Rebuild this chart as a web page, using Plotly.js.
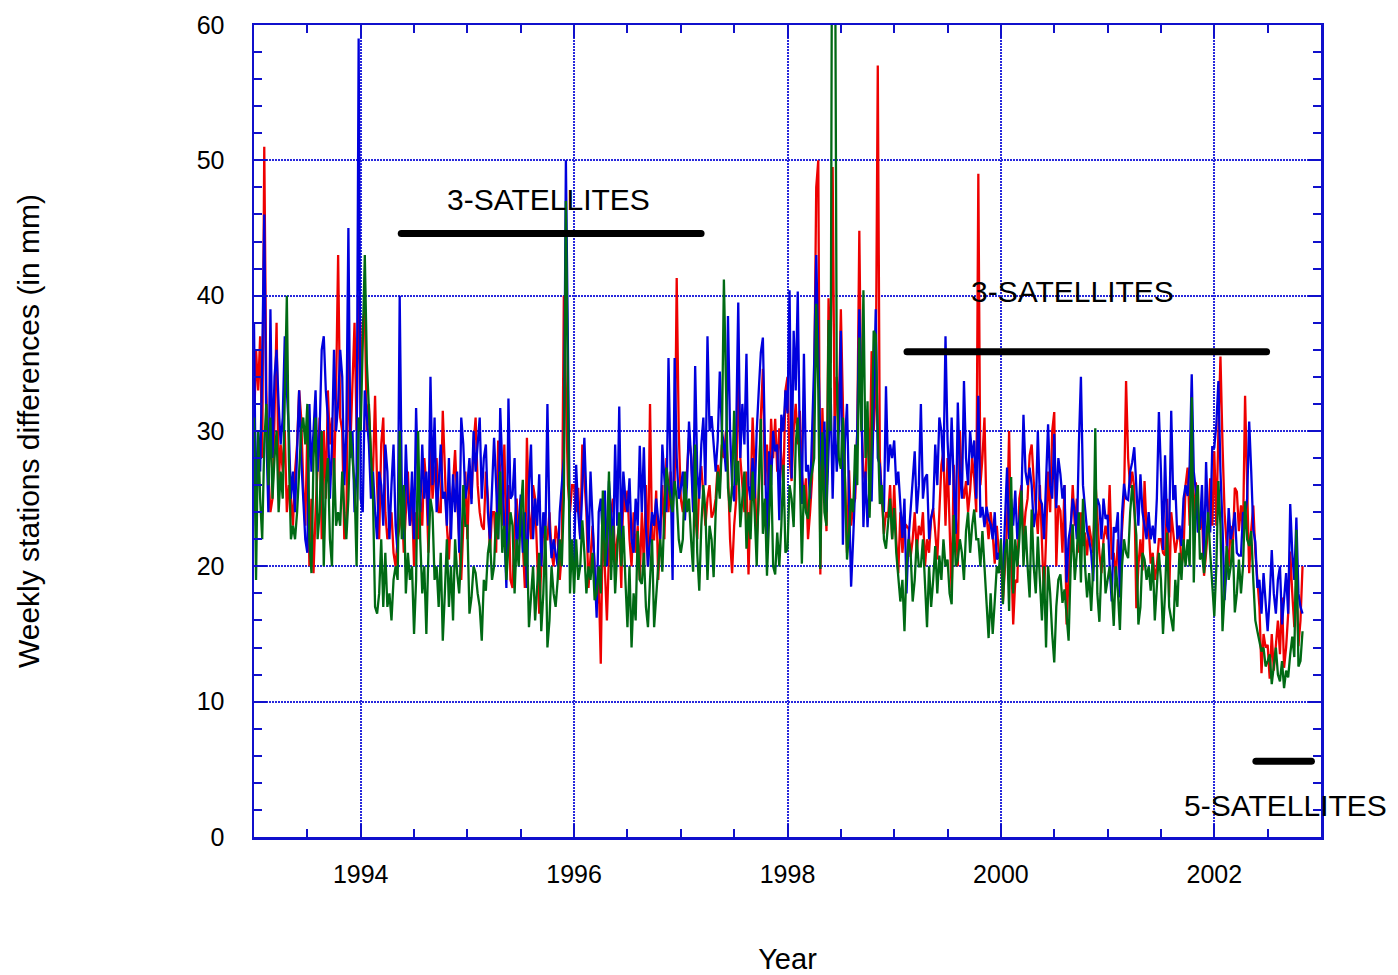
<!DOCTYPE html>
<html>
<head>
<meta charset="utf-8">
<script src="https://cdn.plot.ly/plotly-3.0.1.min.js"></script>
<style>
  html, body { margin: 0; padding: 0; background: #ffffff; }
  #chart { width: 1398px; height: 975px; }
  .shapelayer path { stroke-linecap: round; }
</style>
</head>
<body>
<div id="chart"></div>
<script>
// ---- data (weekly values, mm) ----
const startYear = 1993.0;
const weekStep = 1 / 52;

const redWeekly = [
  // 1993
  30, 36, 33, 37, 28, 51, 33, 27, 24, 25, 31, 38, 26,
  29, 27, 30, 24, 26, 25, 23, 27, 29, 33, 31, 26, 23,
  30, 20, 25, 19.5, 24, 28, 31, 22, 30, 25, 33, 29, 31,
  26, 33, 43, 31, 30, 22, 23, 36, 29, 33, 38, 30, 40,
  // 1994
  33, 38, 39, 30, 32, 28, 27, 32.6, 26, 22, 29, 31, 24,
  22, 23, 24, 21, 20, 22, 23, 25, 21, 24, 27, 23, 25,
  20, 24, 22, 25, 23, 28, 26, 21, 29, 25, 27, 28, 24,
  24, 31.5, 27, 23, 20.5, 24, 26, 28.6, 25, 22, 19, 23, 27,
  // 1995
  22, 27, 25, 29, 31, 26, 24, 23, 22.7, 27, 25, 21, 24,
  24, 21, 29.3, 27, 23, 29, 22, 26, 19, 18.4, 23, 25, 22,
  25, 21, 18.4, 29.5, 24, 22, 26, 25, 21, 16.5, 20, 23, 22,
  22, 24, 21, 20, 23, 22, 19, 21, 40, 33, 26, 24, 26,
  // 1996
  26, 24, 25.8, 22, 29, 26, 24, 18.4, 21, 23, 20, 17, 19,
  12.8, 23.6, 19, 16, 21, 24, 25, 20, 22, 23, 18.4, 26, 24,
  25.6, 22, 20, 24, 21, 23, 19, 24, 20, 26, 20, 32, 22,
  22, 25.6, 19, 23, 26, 22, 28, 24, 27, 25, 26, 41.3, 30,
  // 1997
  25, 24, 26, 27, 29.5, 28.3, 25, 24, 22, 26, 27.4, 25, 23,
  25, 26, 23.6, 24, 25, 27.5, 26, 29, 28, 30, 27, 22, 19.5,
  23, 25, 35, 28, 26, 24, 27, 19.4, 25, 31, 27, 22, 25,
  31, 34.6, 26, 29, 25, 30.9, 28, 30.9, 27, 30.2, 28, 26, 33,
  // 1998
  34, 28, 26.3, 30, 32, 29, 31.5, 27, 25, 26.5, 22, 24, 26.5,
  33, 48, 50, 19.4, 31.7, 26, 22.6, 39.8, 35, 49.5, 29.5, 34, 31,
  39, 32, 26, 21, 27.1, 23, 24.5, 25, 30, 44.8, 31, 27, 26,
  31, 27, 35.9, 30, 33, 57, 28, 25, 22.4, 24, 23.6, 26, 22,
  // 1999
  26, 22, 19.5, 24, 21, 22.7, 23, 22.8, 20.7, 22, 24, 21, 23,
  22.3, 24, 20, 22, 21, 23.5, 24.3, 22.5, 20.5, 24, 27.5, 28.5, 23,
  28, 22, 18, 27.5, 24.2, 20, 30, 26, 25, 26.3, 24, 25.6, 28,
  26.5, 24, 49, 26, 28, 31, 23.8, 22, 24, 22.4, 20.2, 23, 21,
  // 2000
  21, 17.4, 20, 23, 30, 21, 15.7, 19, 18.8, 25, 26, 22, 24,
  25, 28.2, 29, 26.3, 24, 22.4, 26, 22, 17.7, 22, 27, 24, 30,
  31.4, 20, 24.5, 24.1, 21, 26, 15.7, 19, 22.4, 26, 23, 25, 21,
  24, 21.5, 22.5, 20.8, 23, 22, 21, 26.5, 24, 21, 19.5, 22, 23,
  // 2001
  22, 26, 20.5, 21, 19, 22, 20.3, 22.6, 25, 33.7, 28, 25.8, 27,
  25.8, 16.9, 20, 22, 19.7, 26.3, 22.7, 23, 20.2, 21, 19, 20, 22,
  22, 21, 20.8, 25, 17.7, 24, 22.5, 21, 22, 23, 20, 21, 26,
  27.3, 23, 29, 22.7, 26.2, 24, 22.7, 24, 19.3, 21, 23, 26.5, 23,
  // 2002
  28.5, 23, 30, 35.5, 29, 24, 21.6, 20, 23, 21.3, 25.8, 25.5, 22.6,
  24.5, 22.5, 32.6, 26, 19.5, 22.7, 24.5, 21, 19, 17, 12.1, 15, 14,
  14.2, 11.7, 15, 12.3, 14, 16, 13.5, 17.7, 12.5, 14, 16.5, 21.1, 18, 15.5, 19, 14.1, 16, 20
];

const blueWeekly = [
  // 1993
  38, 23, 30, 27, 35, 46, 30, 24, 39, 28, 34, 36, 32,
  29, 31, 37, 33, 30, 25, 27, 24, 29, 33, 28, 25, 22,
  21, 32, 27, 30, 33, 27, 30, 36, 37, 33, 31, 25, 29,
  36, 30, 32, 36, 34, 26, 30, 45, 28, 30, 24, 27, 59,
  // 1994
  25, 24, 33, 31, 29, 25, 27, 24, 22, 27, 26, 23, 29,
  27, 22, 26, 29, 23, 21, 40, 26, 22, 29, 25, 23, 27,
  22, 31.7, 26, 24, 29, 25, 27, 23, 34, 26, 31, 24, 26,
  29, 25, 25.5, 23, 28, 22, 26.8, 24, 27, 21, 31, 29, 25,
  // 1995
  26, 28, 24.6, 30, 27, 29, 31, 25, 28, 29, 24, 22, 26,
  29.5, 26, 22, 31.7, 27, 24, 18.4, 32.4, 25, 25.3, 28, 21, 23,
  25.3, 21, 24, 18.4, 26, 29, 22, 25, 23, 26.8, 20, 24, 22,
  32, 23, 20.6, 22, 21, 20, 24, 26, 28, 50, 35, 22, 20,
  // 1996
  20, 27.5, 24, 22, 26, 29.5, 25, 21, 27, 23, 19, 16.2, 24,
  25, 22, 25.6, 20, 26.3, 24, 21, 29, 23, 31.8, 22, 27, 25,
  24, 26.5, 22, 21, 25, 23, 28.9, 24, 28.8, 23, 20, 22, 24,
  23, 25, 23.4, 22, 29, 26, 24, 35.4, 27, 19, 35.4, 28, 25,
  // 1997
  25.8, 27, 23.4, 26, 30.7, 28, 24, 34.8, 27, 25, 29, 31, 26,
  37, 30, 31.1, 29, 27, 29.3, 34.4, 30, 29, 27, 38.5, 30, 26,
  24.8, 30, 39.5, 28, 32, 29, 35.7, 26, 24.9, 28, 25, 30, 33,
  35.8, 36.9, 30, 21.1, 28.5, 26, 30, 28.5, 29, 23.4, 31.2, 30, 33,
  // 1998
  31.3, 40.4, 26.5, 37.4, 33, 40.3, 29, 24.6, 35.7, 27, 27.5, 25, 30,
  35, 43, 36, 29, 26, 30.7, 24, 28, 33.2, 25, 31.1, 27, 30,
  37.4, 21.6, 29.2, 32, 25, 18.5, 22, 26, 30, 39, 32.8, 22.9, 27,
  22.9, 26, 24.8, 31, 39, 28, 27.5, 25, 24, 33.3, 27, 29, 28,
  // 1999
  29.3, 26, 27, 24, 22.1, 25, 18, 22, 24, 26, 28.5, 23.9, 26,
  32, 25, 26.5, 26.8, 22, 23.6, 24.3, 29, 26, 31, 30, 27, 37,
  29.3, 26, 31, 26, 22.4, 32.1, 27, 25, 33.7, 28, 26, 30, 28,
  29.3, 25, 32.6, 23.6, 24.4, 22.9, 24.4, 23.5, 23.1, 22, 24, 20.5, 21,
  // 2000
  20, 19.5, 24, 27.3, 22, 25, 23, 25.6, 22, 23.5, 25, 31.2, 27,
  26, 27.3, 26, 22.9, 24, 30, 25, 24.6, 22, 27, 30.5, 26, 25,
  29.8, 24.3, 28, 26.8, 25, 26, 18.8, 22, 23, 25, 24, 22, 29,
  34, 26, 24.1, 22.6, 22, 21, 18.9, 24, 25, 24.5, 22, 25, 23.5,
  // 2001
  23.8, 20, 17.4, 22.9, 22.5, 24, 17.7, 23.8, 26.1, 25, 24.9, 27, 27.7,
  28.8, 26, 23, 26.8, 24, 23, 22, 24, 22, 23, 21.7, 25, 31.4,
  27, 21.2, 28.2, 23, 22.5, 31.5, 24.9, 26, 22, 23, 21.5, 25, 26,
  25.2, 27.5, 34.2, 27, 25.6, 22.5, 22.9, 26, 20.5, 27.7, 23, 22.5, 28.8,
  // 2002
  28.8, 30.5, 33.7, 27, 23, 17.5, 20, 24.3, 22, 22.8, 24, 21, 20.8,
  20.8, 24, 23.8, 25, 30.7, 27, 22.7, 21.8, 18.4, 19, 16.5, 19.5, 17,
  15.2, 17.7, 21.2, 18, 16.5, 19, 20, 15.7, 18, 19.5, 16.5, 24.6, 21, 19, 23.6, 18, 17, 16.5
];

const greenWeekly = [
  // 1993
  31, 19, 30, 25, 22, 29, 32, 26, 31, 25, 28, 30, 24,
  27, 25, 34, 40, 28, 22, 23, 22, 24, 27, 30, 31, 29,
  32, 22, 19.5, 28, 31, 22, 24, 30, 20, 26, 28, 22, 20,
  28, 23, 24, 23, 27, 24, 22, 25, 30, 28, 26, 20, 31,
  // 1994
  30, 36, 43, 35, 32, 28, 25, 17, 16.5, 18, 22, 17, 21,
  17, 18, 16, 19, 20, 19, 30, 22, 26, 18, 21, 19, 20,
  15, 19, 30, 22, 18, 20, 15, 21, 25, 24, 19, 20, 17,
  21, 14.5, 18, 22, 17, 20, 16, 22, 19.5, 18, 21, 26, 23,
  // 1995
  23, 16.5, 17.7, 20, 19.5, 18, 17, 14.5, 19, 18.2, 21, 22, 19,
  20, 24, 22, 27, 21, 23, 19, 21.6, 24, 23, 18, 22, 20,
  24, 26.4, 20, 22, 15.5, 18, 20, 16, 19, 21, 15.2, 18, 23,
  14, 16, 20, 18, 17, 19, 22, 20, 25, 47, 30, 18, 22,
  // 1996
  18, 22, 19, 20, 23.4, 21, 18, 20, 19, 21, 17.5, 18, 20,
  18, 25.6, 20, 22, 27, 19, 23, 18, 21, 24, 20, 23, 19,
  15.5, 20, 14, 18, 16, 22.6, 19, 18.7, 21, 17, 15.5, 19, 22,
  15.5, 18, 20, 22, 19.6, 24, 27.3, 26, 25, 24, 26.3, 25, 22,
  // 1997
  21, 22, 27, 24, 25, 22, 19.6, 29, 21, 18.2, 23, 26, 24,
  19, 23, 22, 19.2, 24, 27, 25, 29, 41.2, 32.5, 25.8, 24, 26,
  31.5, 26, 27.8, 22.9, 25, 27, 21.3, 24, 22, 27, 24, 20, 26,
  30.9, 22.4, 25, 19.3, 24, 27.5, 20, 19.4, 22.5, 20, 23, 27.5, 21,
  // 1998
  21.3, 26, 25, 22.9, 29, 31, 27, 20.2, 26, 24, 23.5, 26, 27,
  28, 39.4, 33, 19.8, 29.9, 24, 23, 38.2, 30, 85, 75, 34, 28,
  27.2, 31, 26.5, 20.5, 22.6, 25, 24, 29, 26, 36.9, 30, 40.4, 28,
  32.2, 23.6, 29, 37.4, 37.1, 30, 24.6, 26, 22, 21.3, 23, 25, 22,
  // 1999
  24.3, 21, 18.9, 17.4, 19, 15.2, 20, 22, 21, 17.4, 19, 22, 20,
  20, 22, 19, 15.5, 20, 17, 19, 21.5, 18, 20.8, 19, 22, 20,
  20.5, 18, 17.2, 23.8, 20, 20.5, 22, 21, 19, 22.6, 24, 21, 23,
  24.2, 22, 22, 20, 22.6, 20, 18, 14.7, 18, 15, 17.4, 20, 19.5,
  // 2000
  22, 17.2, 21, 22, 16.7, 26.6, 18, 22, 20, 22, 25.6, 20, 23,
  20, 17.7, 24.2, 20, 18, 22.2, 19, 16, 20, 14, 20, 18, 15,
  12.9, 17, 19, 19.4, 17.3, 18.3, 16, 14.5, 20, 23.1, 19, 21, 24,
  18.8, 25, 20, 17.7, 19.5, 16.7, 20, 30.2, 18, 15.9, 20, 21.7, 18,
  // 2001
  19, 20, 18.4, 15.6, 20, 18.2, 15.3, 20, 22, 21, 20.6, 24, 26,
  24.2, 22.3, 15.7, 17, 21, 20.5, 19, 20, 18.2, 20.7, 16, 19, 21,
  19, 15, 18, 22.5, 17, 16, 15.2, 19, 17, 21, 19, 22, 20,
  22, 20, 32.5, 18.8, 25, 26, 20.5, 21, 19.5, 22, 24, 21, 19,
  // 2002
  16.3, 20, 26.3, 23, 15.2, 18, 21.5, 19, 20, 22, 16.6, 18, 20.5,
  18, 20, 24.8, 22, 21.5, 22.6, 19, 16, 15.2, 14.5, 13.7, 14, 12.6,
  13, 13.5, 11.3, 12.8, 14, 12, 11.5, 13, 11, 12.3, 11.8, 13.5, 14.8, 13.3, 22.7, 12.6, 13, 15.2
];

// constellation periods (year start, year end, level in mm) and labels
const periodStart = [1994.38, 1999.12, 2002.39];
const periodEnd   = [1997.19, 2002.49, 2002.91];
const periodLevel = [44.6, 35.85, 5.6];
const labelText = ['3-SATELLITES', '3-SATELLITES', '5-SATELLITES'];
const labelX    = [1995.76, 2000.67, 2002.67];
const labelY    = [47.1, 40.3, 2.3];

const xTickVals = [1994, 1996, 1998, 2000, 2002];

// ---- styling ----
const axisBlue = '#1010cc';
const gridBlue = '#2828dc';
const FONT = 'Liberation Sans, Arial, Helvetica, sans-serif';

function series(y, color) {
  return {
    type: 'scatter', mode: 'lines',
    x0: startYear, dx: weekStep, y: y,
    line: { color: color, width: 2.3 },
    hoverinfo: 'skip', showlegend: false
  };
}

const traces = [
  series(redWeekly, '#ee0000'),
  series(blueWeekly, '#0000dd'),
  series(greenWeekly, '#006a14')
];

const shapes = periodStart.map((s, i) => ({
  type: 'line', xref: 'x', yref: 'y',
  x0: s, x1: periodEnd[i], y0: periodLevel[i], y1: periodLevel[i],
  line: { color: '#000000', width: 7 }
}));

const annotations = labelText.map((t, i) => ({
  text: t, xref: 'x', yref: 'y', x: labelX[i], y: labelY[i],
  showarrow: false, xanchor: 'center', yanchor: 'middle',
  font: { family: FONT, size: 30, color: '#000000' }
}));

const axisCommon = {
  showline: true, linecolor: axisBlue, linewidth: 2.5, mirror: 'ticks',
  ticks: 'inside', tickcolor: axisBlue, tickwidth: 2, ticklen: 13,
  showgrid: true, gridcolor: gridBlue, gridwidth: 2, griddash: '2px,1px',
  zeroline: false, tickfont: { family: FONT, size: 25, color: '#000000' }
};

const layout = {
  width: 1398, height: 975,
  margin: { l: 254, r: 77, t: 25, b: 138 },
  paper_bgcolor: '#ffffff', plot_bgcolor: '#ffffff',
  xaxis: Object.assign({}, axisCommon, {
    range: [1993, 2003], tickmode: 'array', tickvals: xTickVals,
    ticktext: xTickVals.map(String), ticklabelstandoff: 13,
    minor: { dtick: 0.5, tick0: 1993, ticks: 'inside', ticklen: 8, tickcolor: axisBlue, tickwidth: 2, showgrid: false },
    title: { text: 'Year', font: { family: FONT, size: 29, color: '#000000' }, standoff: 69 }
  }),
  yaxis: Object.assign({}, axisCommon, {
    range: [0, 60], dtick: 10, tick0: 0, ticklabelstandoff: 22,
    minor: { dtick: 2, tick0: 0, ticks: 'inside', ticklen: 8, tickcolor: axisBlue, tickwidth: 2, showgrid: false },
    title: { text: 'Weekly stations differences (in mm)', font: { family: FONT, size: 30, color: '#000000' }, standoff: 148 }
  }),
  shapes: shapes,
  annotations: annotations,
  hovermode: false
};

Plotly.newPlot('chart', traces, layout, { displayModeBar: false, staticPlot: true });
</script>
</body>
</html>
